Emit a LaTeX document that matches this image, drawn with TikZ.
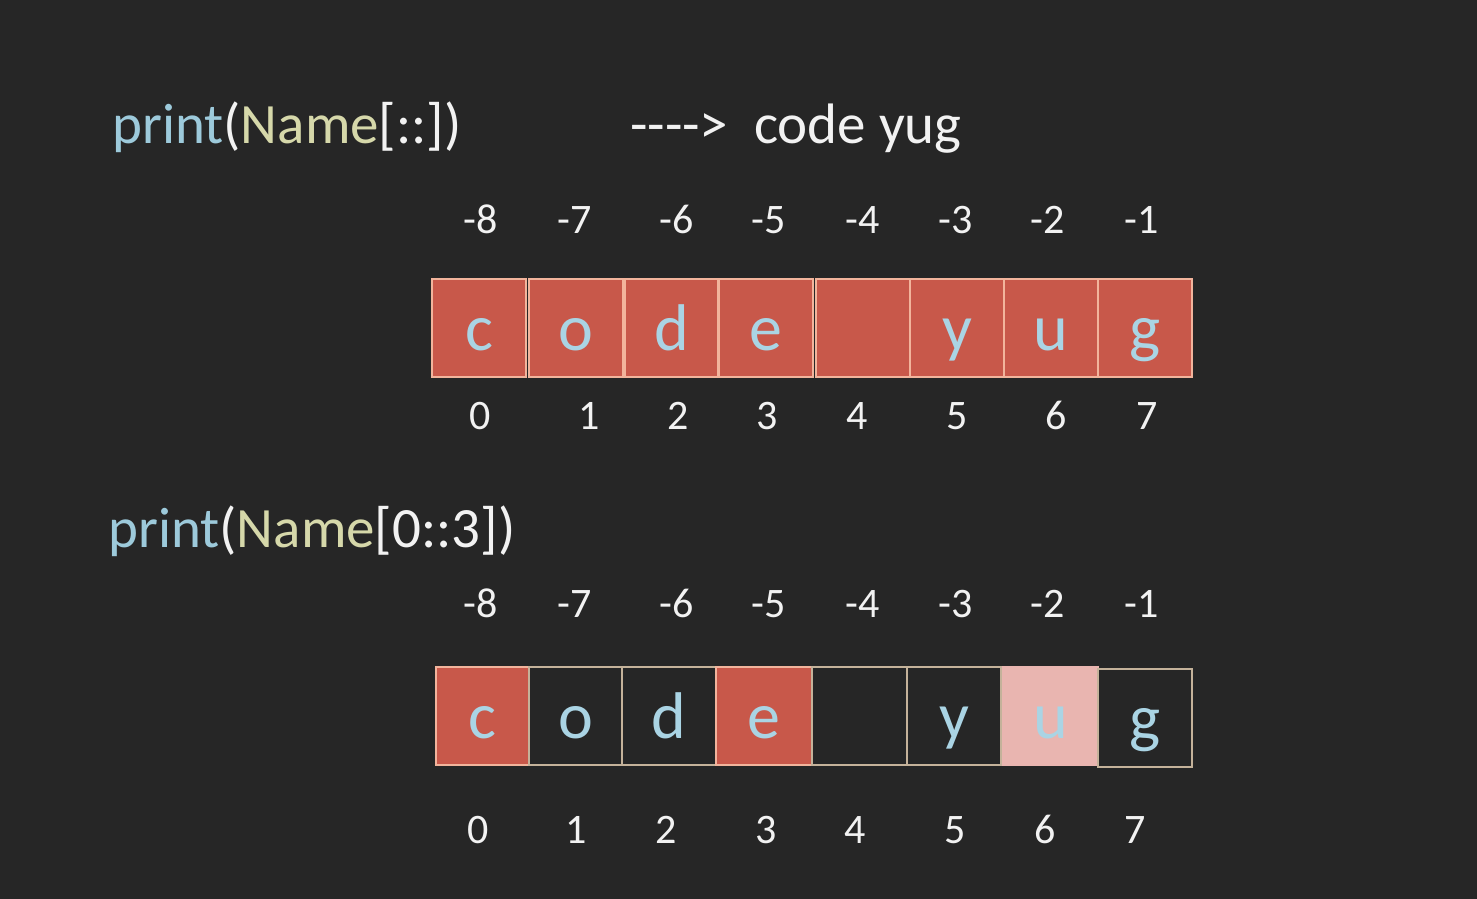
\documentclass[tikz,border=0pt]{standalone}
\usepackage{fontspec}
\setmainfont{Carlito}
\definecolor{bg}{HTML}{262626}
\definecolor{kw}{HTML}{9DCADB}
\definecolor{nm}{HTML}{D6D8AA}
\definecolor{br}{HTML}{F2F2F2}
\definecolor{letter}{HTML}{AAD4E4}
\definecolor{redc}{HTML}{C8584A}
\definecolor{pinkc}{HTML}{E9B5B0}
\definecolor{bordtop}{HTML}{F2B49C}
\definecolor{bordbot}{HTML}{C4B29A}
\definecolor{num}{HTML}{F2F2F2}
\begin{document}
\begin{tikzpicture}[x=1pt,y=-1pt,
  cellbase/.style={rectangle, inner sep=0pt, text height=44pt, text depth=0pt,
    minimum height=98pt, font=\fontsize{66}{70}\selectfont, text=letter, line width=1.2pt},
  redtop/.style={cellbase, fill=redc, draw=bordtop},
  redbot/.style={cellbase, fill=redc, draw=bordtop},
  darkbot/.style={cellbase, fill=bg, draw=bordbot},
  pinkbot/.style={cellbase, fill=pinkc, draw=pinkc},
  idx/.style={anchor=base, inner sep=0pt, text=num, font=\fontsize{42}{46}\selectfont},
  title/.style={anchor=base west, inner sep=0pt, text=br, font=\fontsize{57}{60}\selectfont}]
\useasboundingbox (0,0) rectangle (1477,899);
\fill[bg] (0,0) rectangle (1477,899);

% titles
\node[title] (p1) at (112,143) {\textcolor{kw}{print}(\textcolor{nm}{Name}[::])};
\node[title] (arr) at (630,143) {-\kern0pt-\kern0pt-\kern0pt-\kern0pt>};
\node[title] (res) at (754,143) {code yug};
\node[title] (p2) at (108,547) {\textcolor{kw}{print}(\textcolor{nm}{Name}[0::3])};

% top row cells
\foreach \i/\xa/\xb/\ch in {0/432/526/c,1/529/623/o,2/625/718/d,3/719/813/e,4/816/910/{},5/910/1004/y,6/1004/1098/u,7/1098/1192/g}
  \node[redtop, minimum width={\xb-\xa}] (t\i) at ({(\xa+\xb)/2},328) {\ch};

% top row indices
\foreach \i/\x/\lab in {0/481/-8,1/575/-7,2/677/-6,3/769/-5,4/863/-4,5/956/-3,6/1048/-2,7/1142/-1}
  \node[idx] (tn\i) at (\x,233) {\lab};
\foreach \i/\x in {0/480,1/589,2/678,3/767,4/857,5/957,6/1056,7/1147}
  \node[idx] (tp\i) at (\x,429) {\i};

% bottom row cells
\foreach \i/\xa/\xb/\yc/\ch/\st in {0/436/529/716/c/redbot,1/529/622/716/o/darkbot,2/622/716/716/d/darkbot,3/716/812/716/e/redbot,4/812/907/716/{}/darkbot,5/907/1001/716/y/darkbot,6/1003/1098/716/u/pinkbot,7/1098/1192/718/g/darkbot}
  \node[\st, minimum width={\xb-\xa}] (b\i) at ({(\xa+\xb)/2},\yc) {\ch};

% bottom row indices
\foreach \i/\x/\lab in {0/481/-8,1/575/-7,2/677/-6,3/769/-5,4/863/-4,5/956/-3,6/1048/-2,7/1142/-1}
  \node[idx] (bn\i) at (\x,617) {\lab};
\foreach \i/\x in {0/478,1/576,2/666,3/766,4/855,5/955,6/1045,7/1135}
  \node[idx] (bp\i) at (\x,843) {\i};
\end{tikzpicture}
\end{document}
